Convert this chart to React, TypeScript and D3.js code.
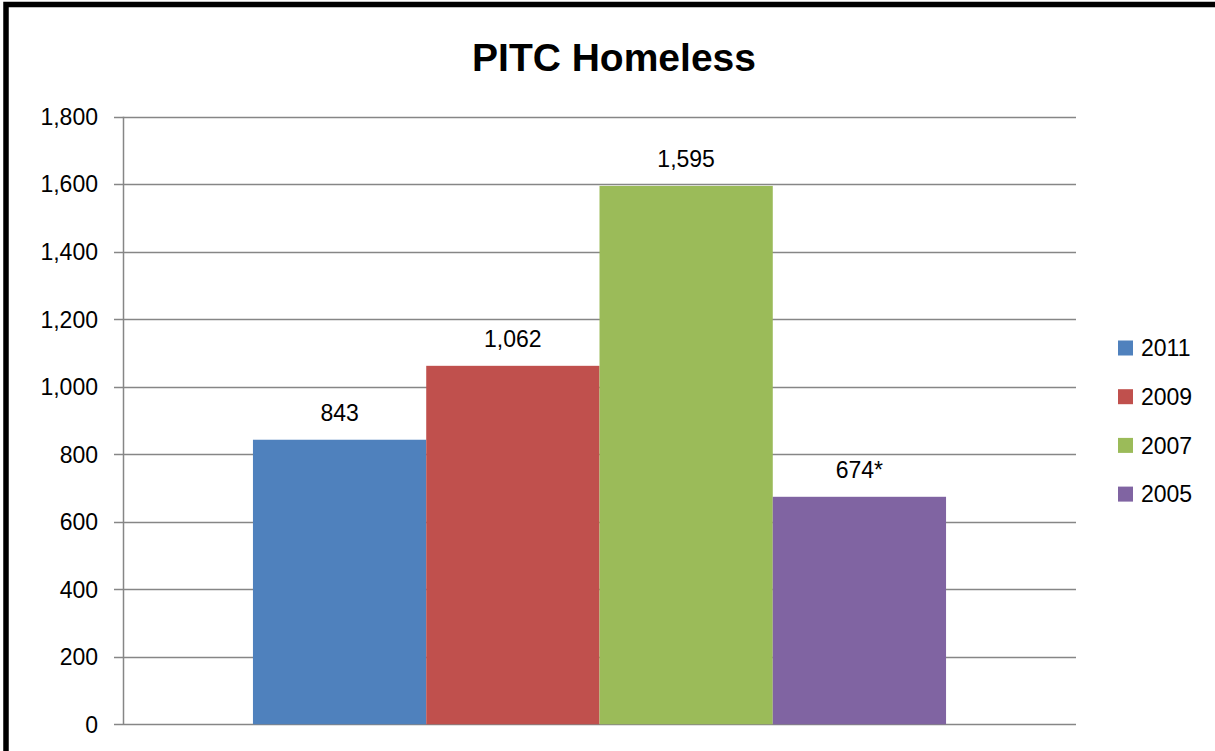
import React from 'react';
import * as d3 from 'd3';

const years = ['2011', '2009', '2007', '2005'];
const counts = [843, 1062, 1595, 674];
const valueLabels = ['843', '1,062', '1,595', '674*'];
const colors = ['#4F81BD', '#C0504D', '#9BBB59', '#8064A2'];
const yTicks = [0, 200, 400, 600, 800, 1000, 1200, 1400, 1600, 1800];

const W = 1215;
const H = 751;
const plot = { left: 123, right: 1076, top: 116.7, bottom: 724.3 };
const font = '"Liberation Sans", Arial, sans-serif';

export default function App() {
  const y = d3.scaleLinear().domain([0, 1800]).range([plot.bottom, plot.top]);
  // one category holding four series; Excel gap width ~150%
  const groupW = (plot.right - plot.left) * 4 / 5.5;
  const groupX = plot.left + ((plot.right - plot.left) - groupW) / 2;
  const x = d3.scaleBand().domain(years).range([groupX, groupX + groupW]).padding(0);
  const fmt = d3.format(',');

  return (
    <div style={{ position: 'absolute', left: 0, top: 0 }}>
      <svg width={W} height={H} style={{ display: 'block', background: '#fff' }}>
        <rect x={0} y={0} width={W} height={H} fill="#fff" />
        {/* grid + ticks */}
        {yTicks.map(t => (
          <g key={t}>
            <line x1={plot.left - 9} x2={plot.right} y1={Math.round(y(t)) + 0.5} y2={Math.round(y(t)) + 0.5} stroke="#868686" strokeWidth={1.5} />
            <text x={98} y={y(t)} dy="0.36em" textAnchor="end" fontFamily={font} fontSize={23} fill="#000">
              {fmt(t)}
            </text>
          </g>
        ))}
        <line x1={plot.left + 0.5} x2={plot.left + 0.5} y1={plot.top} y2={plot.bottom} stroke="#868686" strokeWidth={1.5} />
        {/* bars */}
        {years.map((yr, i) => (
          <g key={yr}>
            <rect x={x(yr)!} y={y(counts[i])} width={x.bandwidth()} height={plot.bottom - y(counts[i])} fill={colors[i]} />
            <text x={x(yr)! + x.bandwidth() / 2} y={y(counts[i]) - 27} dy="0.36em" textAnchor="middle" fontFamily={font} fontSize={23} fill="#000">
              {valueLabels[i]}
            </text>
          </g>
        ))}
        {/* legend */}
        {years.map((yr, i) => (
          <g key={'lg' + yr} transform={`translate(1118, ${348 + i * 48.7})`}>
            <rect x={0} y={-7.5} width={15} height={15} fill={colors[i]} />
            <text x={23} y={0} dy="0.36em" fontFamily={font} fontSize={23} fill="#000">{yr}</text>
          </g>
        ))}
        {/* title */}
        <text x={614} y={57} dy="0.36em" textAnchor="middle" fontFamily={font} fontSize={39} fontWeight="bold" fill="#000">
          PITC Homeless
        </text>
        {/* outer frame */}
        <rect x={6} y={4.5} width={1400} height={900} fill="none" stroke="#000" strokeWidth={5.5} />
      </svg>
    </div>
  );
}
